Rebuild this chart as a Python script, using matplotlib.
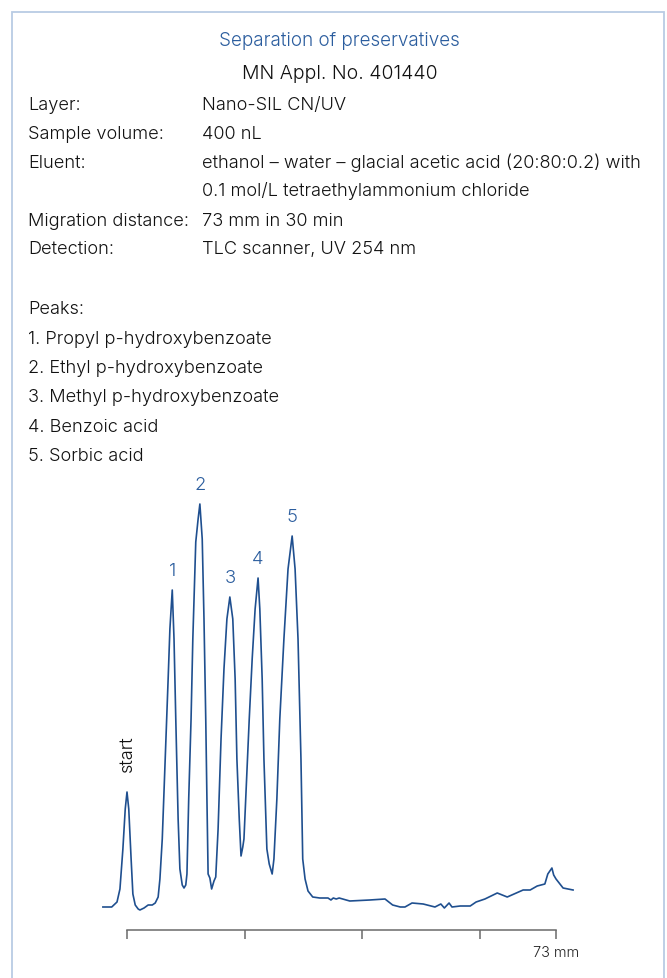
import matplotlib
matplotlib.use('Agg')
import matplotlib.pyplot as plt
from matplotlib.patches import Rectangle

W, H, DPI = 667, 979, 100
BLUE_LINE  = '#1f4f8f'
BLUE_TEXT  = '#2b5d9e'
BORDER     = '#b9cbe4'
TEXT       = '#111111'
FONT       = 'Inter'
WEIGHT     = 300
FS_BODY    = 13.1

TITLE    = 'Separation of preservatives'
SUBTITLE = 'MN Appl. No. 401440'
INFO_LABELS = ['Layer:', 'Sample volume:', 'Eluent:', '', 'Migration distance:', 'Detection:']
INFO_VALUES = ['Nano-SIL CN/UV', '400 nL',
               'ethanol \u2013 water \u2013 glacial acetic acid (20:80:0.2) with',
               '0.1 mol/L tetraethylammonium chloride',
               '73 mm in 30 min', 'TLC scanner, UV 254 nm']
PEAK_NAMES = ['Propyl p-hydroxybenzoate', 'Ethyl p-hydroxybenzoate',
              'Methyl p-hydroxybenzoate', 'Benzoic acid', 'Sorbic acid']

# densitogram trace: migration distance (mm) vs. signal (arbitrary units)
dist = [-4.1, -2.6, -1.7, -1.2, -0.7, -0.3, 0.0, 0.3, 0.7, 1.0,
        1.4, 1.9, 2.2, 2.9, 3.6, 4.3, 4.8, 5.3, 5.6, 6.0,
        6.5, 7.0, 7.3, 7.7, 8.0, 8.3, 8.7, 9.0, 9.4, 9.7,
        10.0, 10.2, 10.5, 10.9, 11.2, 11.7, 12.1, 12.4, 12.8, 13.1,
        13.4, 13.6, 13.8, 14.1, 14.4, 14.8, 15.1, 15.5, 16.0, 16.5,
        17.0, 17.5, 18.0, 18.4, 18.7, 19.1, 19.4, 19.7, 19.9, 20.2,
        20.8, 21.3, 21.8, 22.3, 22.6, 23.0, 23.3, 23.8, 24.2, 24.7,
        25.0, 25.5, 26.0, 26.7, 27.4, 28.1, 28.6, 29.1, 29.6, 29.9,
        30.3, 30.8, 31.6, 32.8, 34.2, 34.7, 35.1, 35.6, 36.1, 37.9,
        41.3, 43.9, 45.2, 46.5, 47.3, 48.5, 50.4, 52.4, 53.4, 54.0,
        54.8, 55.3, 56.7, 58.4, 59.4, 60.9, 63.0, 64.7, 67.4, 68.6,
        69.8, 71.1, 71.6, 72.3, 72.6, 73.0, 74.2, 75.9]
signal = [0, 0, 5, 18, 58, 98, 115, 98, 48, 13,
          2, -2, -3, -1, 2, 2, 4, 10, 28, 68,
          148, 228, 278, 317, 268, 188, 88, 38, 22, 19,
          22, 33, 108, 188, 268, 365, 388, 403, 368, 288,
          188, 108, 33, 29, 18, 26, 30, 78, 168, 238,
          288, 310, 288, 228, 148, 88, 51, 60, 68, 108,
          188, 248, 298, 329, 298, 228, 148, 58, 43, 33,
          48, 108, 188, 268, 338, 371, 338, 268, 148, 48,
          28, 16, 10, 9, 9, 7, 9, 8, 9, 6,
          7, 8, 2, 0, 0, 4, 3, 0, 3, -1,
          4, 0, 1, 1, 5, 8, 14, 10, 17, 17,
          21, 23, 33, 39, 32, 28, 19, 17]

peak_dist   = [7.7, 12.4, 17.5, 22.3, 28.1]
peak_signal = [317, 403, 310, 329, 371]
peak_labels = ['1', '2', '3', '4', '5']
start_dist, start_signal = 0.0, 115

tick_pos    = [0, 20, 40, 60, 73]
tick_labels = ['', '', '', '', '73 mm']


def fy(py):
    """figure fraction from pixel row"""
    return 1 - py / H


def label(x, y, s, **kw):
    opts = dict(ha='left', va='baseline', fontsize=FS_BODY, color=TEXT,
                family=FONT, weight=WEIGHT)
    opts.update(kw)
    fig.text(x / W, fy(y), s, **opts)


fig = plt.figure(figsize=(W / DPI, H / DPI), dpi=DPI)
fig.patches.append(Rectangle((12 / W, -0.01), 652 / W, fy(13) + 0.01,
                             transform=fig.transFigure, fill=False,
                             edgecolor=BORDER, linewidth=1.3))

label(339, 46, TITLE, ha='center', fontsize=13.6, color=BLUE_TEXT)
label(340, 79, SUBTITLE, ha='center', fontsize=14.0)

info_rows = [109.5, 139, 168.5, 196.5, 225.5, 254]
for row, lab, val in zip(info_rows, INFO_LABELS, INFO_VALUES):
    label(28, row, lab)
    label(202, row, val)

label(28, 314.5, 'Peaks:')
for i, name in enumerate(PEAK_NAMES):
    label(28, 344 + i * 29.2, f'{i + 1}. {name}')

# chromatogram axes span whole figure; limits map mm / signal onto pixels
px_per_mm = 5.877
ax = fig.add_axes([0, 0, 1, 1])
ax.set_xlim(-127 / px_per_mm, (W - 127) / px_per_mm)
ax.set_ylim(908 - H, 908)
ax.patch.set_alpha(0)

ax.plot(dist, signal, color=BLUE_LINE, linewidth=1.2, solid_joinstyle='round')

for d, s, lab in zip(peak_dist, peak_signal, peak_labels):
    ax.annotate(lab, (d, s), xytext=(0, 8), textcoords='offset points',
                ha='center', va='bottom', fontsize=13.3, color=BLUE_TEXT,
                family=FONT, weight=WEIGHT)
ax.annotate('start', (start_dist, start_signal), xytext=(0, 28), textcoords='offset points',
            ha='center', va='center', rotation=90, fontsize=13.0, color=TEXT,
            family=FONT, weight=WEIGHT)

for side in ['top', 'right', 'left']:
    ax.spines[side].set_visible(False)
ax.spines['bottom'].set_position(('data', -23))
ax.spines['bottom'].set_bounds(0, 73)
ax.spines['bottom'].set_color('#6a6a6a')
ax.spines['bottom'].set_linewidth(1.1)
ax.set_yticks([])
ax.set_xticks(tick_pos)
ax.set_xticklabels(tick_labels, family=FONT, weight=WEIGHT, fontsize=10.4, color='#222222')
ax.tick_params(axis='x', direction='out', length=6.5, width=1.1, color='#6a6a6a', pad=4)

fig.savefig('out.png', dpi=DPI)
